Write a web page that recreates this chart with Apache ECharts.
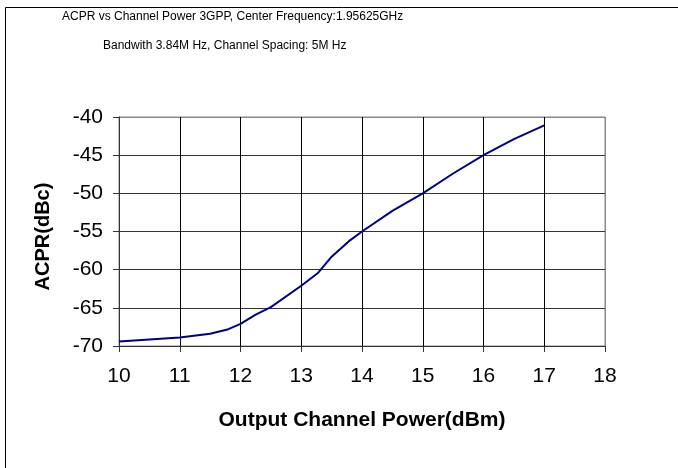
<!DOCTYPE html>
<html>
<head>
<meta charset="utf-8">
<script src="https://cdn.jsdelivr.net/npm/echarts@6/dist/echarts.min.js"></script>
<style>
  html, body { margin: 0; padding: 0; background: #fff; }
  #acprChart { width: 678px; height: 468px; }
</style>
</head>
<body>
<div id="acprChart"></div>
<script>
// output channel power (dBm) and measured ACPR (dBc)
const powerDbm = [10, 11, 11.5, 11.8, 12, 12.25, 12.5, 13, 13.28, 13.5, 13.78, 14, 14.5, 15, 15.5, 16, 16.5, 17]
const acprDbc = [-69.4, -68.9, -68.4, -67.8, -67.1, -65.9, -64.9, -62.1, -60.4, -58.3, -56.3, -55.0, -52.3, -50.0, -47.4, -45.0, -42.9, -41.1]
const titleLines = [
  'ACPR vs Channel Power 3GPP, Center Frequency:1.95625GHz',
  'Bandwith 3.84M Hz, Channel Spacing: 5M Hz'
]

const chart = echarts.init(document.getElementById('acprChart'))
const font = 'Liberation Sans, Arial, sans-serif'

const option = {
  animation: false,
  backgroundColor: '#fff',
  graphic: [
    {
      type: 'rect',
      shape: { x: 5.5, y: 7.5, width: 700, height: 500 },
      style: { fill: 'none', stroke: '#000', lineWidth: 1 },
      silent: true
    },
    {
      type: 'text',
      left: 62, top: 11,
      style: { text: titleLines[0], font: '12px ' + font, fill: '#000' }
    },
    {
      type: 'text',
      left: 103, top: 40,
      style: { text: titleLines[1], font: '12px ' + font, fill: '#000' }
    }
  ],
  grid: {
    left: 119,
    right: 73,
    top: 117,
    bottom: 122,
    show: true,
    borderColor: '#888',
    borderWidth: 1
  },
  xAxis: {
    type: 'value',
    min: 10,
    max: 18,
    interval: 1,
    name: 'Output Channel Power(dBm)',
    nameLocation: 'middle',
    nameGap: 64,
    nameTextStyle: { fontFamily: font, fontSize: 21, fontWeight: 'bold', color: '#000' },
    axisLine: { show: true, lineStyle: { color: '#333', width: 1 } },
    axisTick: { show: true, inside: false, length: 6, lineStyle: { color: '#333' } },
    axisLabel: { fontFamily: font, fontSize: 21, color: '#000', margin: 20 },
    splitLine: {
      show: true,
      lineStyle: { color: ['#000', '#000', '#000', '#000', '#000', '#000', '#000', '#000', '#888'], width: 1 }
    }
  },
  yAxis: {
    type: 'value',
    min: -70,
    max: -40,
    interval: 5,
    name: 'ACPR(dBc)',
    nameLocation: 'middle',
    nameGap: 66,
    nameTextStyle: { fontFamily: font, fontSize: 20, fontWeight: 'bold', color: '#000', padding: [0, 10, 0, 0] },
    axisLine: { show: true, lineStyle: { color: '#333', width: 1 } },
    axisTick: { show: true, inside: false, length: 6, lineStyle: { color: '#333' } },
    axisLabel: { fontFamily: font, fontSize: 21, color: '#000', margin: 16 },
    splitLine: {
      show: true,
      lineStyle: { color: ['#333', '#333', '#333', '#333', '#333', '#333', '#888'], width: 1 }
    }
  },
  series: [
    {
      name: 'ACPR',
      type: 'line',
      data: powerDbm.map((p, i) => [p, acprDbc[i]]),
      showSymbol: false,
      smooth: false,
      lineStyle: { color: '#000080', width: 2 }
    }
  ]
}

chart.setOption(option)
</script>
</body>
</html>
